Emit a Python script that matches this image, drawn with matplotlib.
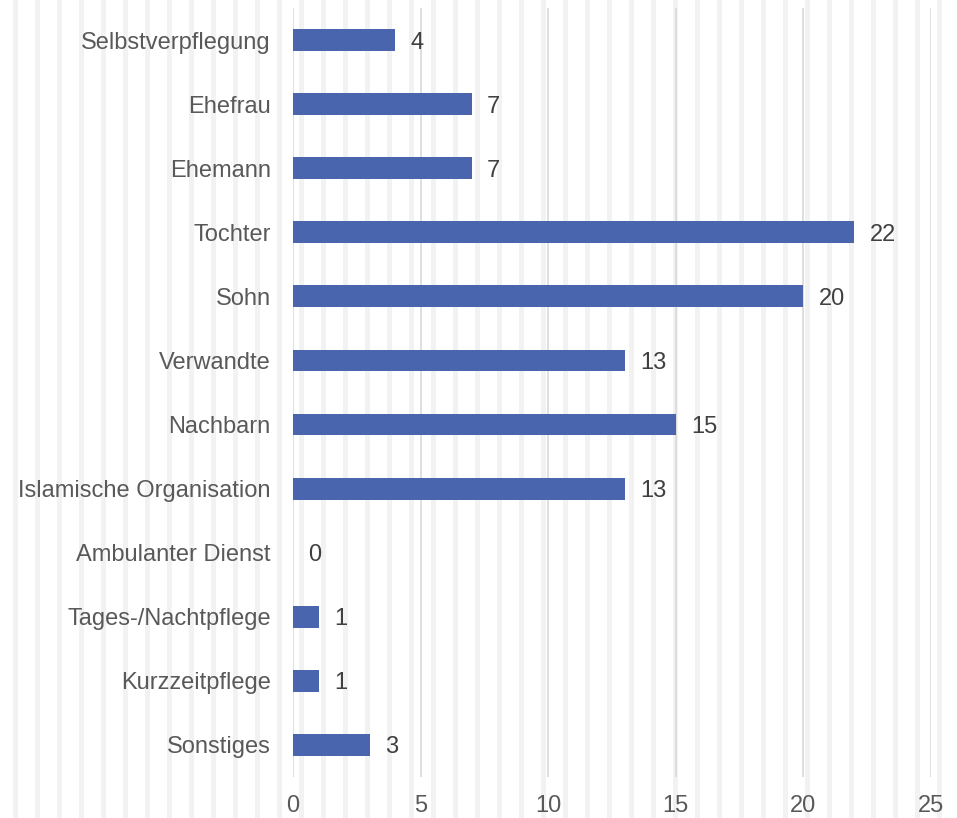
import matplotlib.pyplot as plt

categories = ['Selbstverpflegung', 'Ehefrau', 'Ehemann', 'Tochter', 'Sohn', 'Verwandte',
              'Nachbarn', 'Islamische Organisation', 'Ambulanter Dienst',
              'Tages-/Nachtpflege', 'Kurzzeitpflege', 'Sonstiges']
values = [4, 7, 7, 22, 20, 13, 15, 13, 0, 1, 1, 3]
xticks = [0, 5, 10, 15, 20, 25]

W, H = 957, 818
plt.rcParams['font.family'] = ['Liberation Sans', 'DejaVu Sans']

fig = plt.figure(figsize=(W / 100, H / 100), dpi=100)

# striped background pattern
bg = fig.add_axes([0, 0, 1, 1], zorder=-1)
bg.set_xlim(0, W)
bg.set_ylim(0, H)
for x0 in range(13, W, 22):
    bg.axvspan(x0, x0 + 5, color='#f2f2f2', lw=0, antialiased=False)
bg.axis('off')

ax = fig.add_axes([293 / W, 1 - 777 / H, (931 - 293) / W, (777 - 8) / H])
ax.set_facecolor('none')

ypos = list(range(len(categories)))
ax.barh(ypos, values, height=0.34, color='#4865AD', zorder=3)
for y, v in zip(ypos, values):
    ax.text(v + 0.6, y, str(v), va='center_baseline', ha='left', fontsize=17, color='#404040')

ax.set_yticks(ypos)
ax.set_yticklabels(categories)
ax.set_ylim(len(categories) - 0.5, -0.5)
ax.set_xlim(0, 25)
ax.set_xticks(xticks)
ax.tick_params(axis='both', length=0, labelsize=17, labelcolor='#595959')
ax.tick_params(axis='y', pad=16)
ax.tick_params(axis='x', pad=13)
ax.grid(axis='x', color='#d9d9d9', lw=1.2, zorder=0)
for s in ax.spines.values():
    s.set_visible(False)

fig.savefig('out.png', dpi=100)
